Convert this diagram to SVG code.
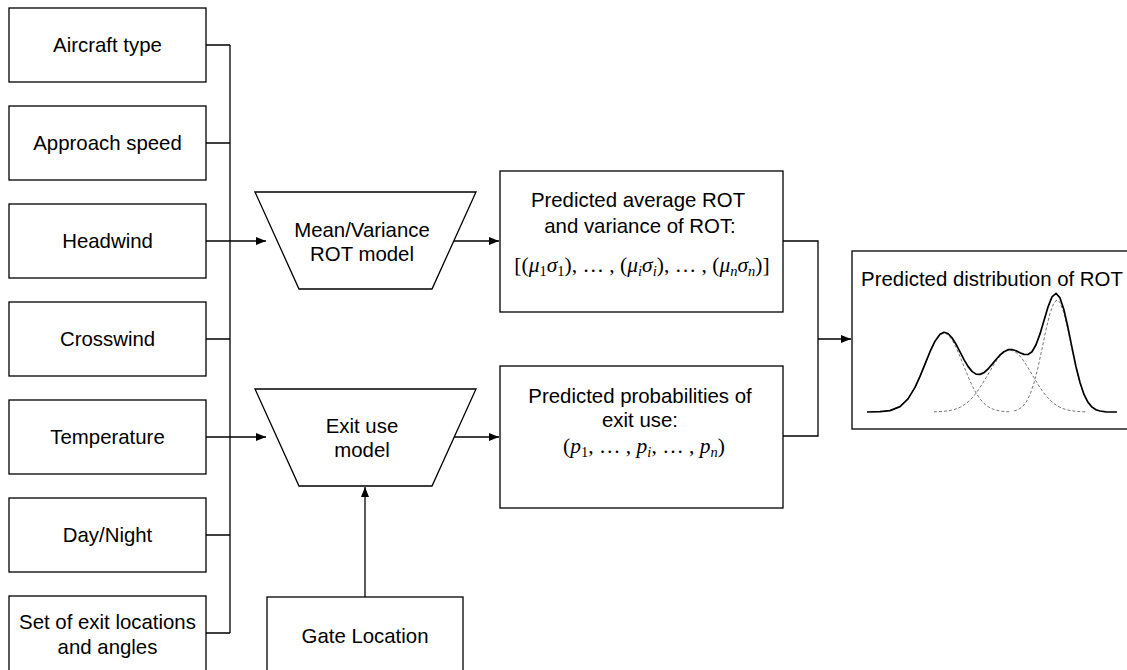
<svg xmlns="http://www.w3.org/2000/svg" width="1127" height="670" viewBox="0 0 1127 670">
<style>
.box{fill:#fff;stroke:#000;stroke-width:1.3}
.t{font-family:"Liberation Sans",Arial,sans-serif;font-size:20.4px;fill:#000;text-anchor:middle}
.m{font-family:"Liberation Serif","Times New Roman",serif;font-size:21.5px;fill:#000;text-anchor:middle}
.i{font-style:italic}
.s{font-size:14.5px}
.ln{fill:none;stroke:#000;stroke-width:1.3}
.ar{fill:none;stroke:#000;stroke-width:1.3;marker-end:url(#ah)}
.sol{fill:none;stroke:#000;stroke-width:1.7;stroke-linejoin:round}
.dash{fill:none;stroke:#777;stroke-width:1;stroke-dasharray:3 2}
</style>
<defs>
<marker id="ah" markerWidth="10" markerHeight="8" refX="10" refY="4" orient="auto" markerUnits="userSpaceOnUse">
<path d="M0,0 L10,4 L0,8 Z" fill="#000"/>
</marker>
</defs>
<rect width="1127" height="670" fill="#fff"/>

<g id="connectors">
<path class="ln" d="M206,45 H230 M206,143 H230 M206,339 H230 M206,535 H230 M206,633 H230 M230,45 V633"/>
<path class="ar" d="M206,241 H266"/>
<path class="ar" d="M206,437 H266"/>
<path class="ar" d="M454,241 H499"/>
<path class="ar" d="M454,437 H499"/>
<path class="ar" d="M365,597 V487"/>
<path class="ln" d="M783,241 H818 V436 H783"/>
<path class="ar" d="M818,339 H851"/>
</g>

<g id="aircraft-type"><rect class="box" x="9" y="8" width="197" height="74"/><text class="t" x="107.5" y="52">Aircraft type</text></g>
<g id="approach-speed"><rect class="box" x="9" y="106" width="197" height="74"/><text class="t" x="107.5" y="150">Approach speed</text></g>
<g id="headwind"><rect class="box" x="9" y="204" width="197" height="74"/><text class="t" x="107.5" y="248">Headwind</text></g>
<g id="crosswind"><rect class="box" x="9" y="302" width="197" height="74"/><text class="t" x="107.5" y="346">Crosswind</text></g>
<g id="temperature"><rect class="box" x="9" y="400" width="197" height="74"/><text class="t" x="107.5" y="444">Temperature</text></g>
<g id="day-night"><rect class="box" x="9" y="498" width="197" height="74"/><text class="t" x="107.5" y="542">Day/Night</text></g>
<g id="exit-locations"><rect class="box" x="9" y="596" width="197" height="90"/><text class="t" x="107.5" y="629">Set of exit locations</text><text class="t" x="107.5" y="654">and angles</text></g>

<g id="gate-location"><rect class="box" x="267" y="597" width="196" height="90"/><text class="t" x="365" y="643">Gate Location</text></g>

<g id="mean-variance-model"><polygon class="box" points="255,192 476,192 432,289 299,289"/><text class="t" x="362" y="237">Mean/Variance</text><text class="t" x="362" y="261">ROT model</text></g>
<g id="exit-use-model"><polygon class="box" points="255,389 476,389 432,486 299,486"/><text class="t" x="362" y="433">Exit use</text><text class="t" x="362" y="457">model</text></g>

<g id="predicted-rot"><rect class="box" x="500" y="171" width="283" height="141"/>
<text class="t" x="638" y="207">Predicted average ROT</text>
<text class="t" x="640" y="233">and variance of ROT:</text>
<text class="m" x="642" y="272">[(<tspan class="i">μ</tspan><tspan class="s" dy="4">1</tspan><tspan class="i" dy="-4">σ</tspan><tspan class="s" dy="4">1</tspan><tspan dy="-4">), … , (</tspan><tspan class="i">μ</tspan><tspan class="s i" dy="4">i</tspan><tspan class="i" dy="-4">σ</tspan><tspan class="s i" dy="4">i</tspan><tspan dy="-4">), … , (</tspan><tspan class="i">μ</tspan><tspan class="s i" dy="4">n</tspan><tspan class="i" dy="-4">σ</tspan><tspan class="s i" dy="4">n</tspan><tspan dy="-4">)]</tspan></text>
</g>

<g id="predicted-exit"><rect class="box" x="500" y="366" width="283" height="142"/>
<text class="t" x="640" y="403">Predicted probabilities of</text>
<text class="t" x="640" y="427">exit use:</text>
<text class="m" x="644" y="453">(<tspan class="i">p</tspan><tspan class="s" dy="4">1</tspan><tspan dy="-4">, … , </tspan><tspan class="i">p</tspan><tspan class="s i" dy="4">i</tspan><tspan dy="-4">, … , </tspan><tspan class="i">p</tspan><tspan class="s i" dy="4">n</tspan><tspan dy="-4">)</tspan></text>
</g>

<g id="distribution"><rect class="box" x="852" y="251" width="290" height="178"/>
<text class="t" x="992" y="286">Predicted distribution of ROT</text>
<polyline class="dash" points="880,411.7 890,410.6 900,406.6 908,398.9 915,387.4 920,376.4 925,364.1 930,351.8 935,341.4 940,334.7 944,333 948,334.7 952,339.7 956,347.3 960,356.6 964,366.6 968,376.4 972,385.3 976,392.9 980,398.9 984,403.4 988,406.6 992,408.75 996,410.1 1000,411 1004,411.5 1010,411.8"/>
<polyline class="dash" points="934,411.85 938,411.7 942,411.5 946,411.1 950,410.5 954,409.6 958,408.2 962,406.3 966,403.6 970,400.1 974,395.7 978,390.5 982,384.4 986,377.8 990,371 994,364.4 998,358.6 1002,354 1006,351 1010,350 1014,351 1018,354 1022,358.6 1026,364.4 1030,371 1034,377.8 1038,384.4 1042,390.5 1046,395.7 1050,400.1 1054,403.6 1058,406.3 1062,408.2 1066,409.6 1070,410.5 1074,411.1 1078,411.5 1082,411.7 1086,411.85"/>
<polyline class="dash" points="1014,411 1018,409.7 1022,407.1 1026,402.4 1030,394.6 1034,382.9 1038,367.4 1042,348.9 1046,329.7 1050,313.2 1054,302.6 1057,300 1060,302.6 1064,313.2 1068,329.7 1072,348.9 1076,367.4 1080,382.9 1084,394.6 1088,402.4 1092,407.1 1096,409.7 1100,411"/>
<polyline class="sol" points="867,412 880,411.7 890,410.6 900,406.6 908,398.9 915,387.4 920,376.4 925,364.1 930,351.7 935,341.2 940,334.3 944,332.3 948,333.5 952,337.8 956,344.2 960,351.9 964,359.6 968,366.4 972,371.4 976,374.1 980,374.4 984,372.6 988,369 992,364.4 996,359.5 1000,355 1004,351.7 1008,349.7 1012,349.5 1016,350.7 1020,352.7 1024,354.4 1028,354.5 1032,351.7 1036,344.8 1040,333.9 1044,320.4 1048,307 1052,296.9 1056,293.3 1060,297.9 1064,310.1 1068,327.8 1072,347.7 1076,366.7 1080,382.5 1084,394.4 1088,402.3 1092,407.1 1096,409.7 1100,411 1106,411.8 1117,412"/>
</g>
</svg>
